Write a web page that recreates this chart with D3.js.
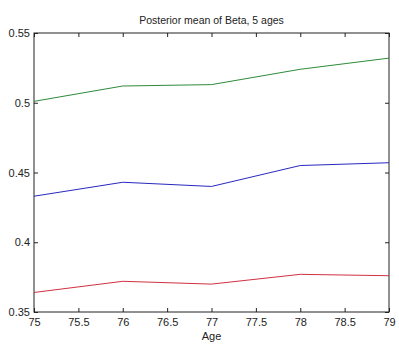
<!DOCTYPE html>
<html><head><meta charset="utf-8">
<script src="https://cdn.jsdelivr.net/npm/d3@7"></script>
<style>body{margin:0;background:#fff}svg{display:block}text{font-family:"Liberation Sans",Arial,sans-serif;}</style>
</head><body>
<script>
const ages = [75, 76, 77, 78, 79];
const green = [0.501, 0.512, 0.513, 0.524, 0.532];
const blue = [0.433, 0.443, 0.440, 0.455, 0.457];
const red = [0.364, 0.372, 0.370, 0.377, 0.376];
const xTicks = [75, 75.5, 76, 76.5, 77, 77.5, 78, 78.5, 79];
const yTicks = [0.35, 0.4, 0.45, 0.5, 0.55];
const seriesList = [
  {values: green, color: "#2e8b3a"},
  {values: blue, color: "#2828c0"},
  {values: red, color: "#d03040"}
];

const W = 399, H = 349;
const L = 34, R = 389, T = 33, B = 312;
const svg = d3.select("body").append("svg").attr("width", W).attr("height", H);
const x = d3.scaleLinear().domain([75, 79]).range([L, R]);
const y = d3.scaleLinear().domain([0.35, 0.55]).range([B, T]);

svg.append("rect").attr("x", L).attr("y", T).attr("width", R - L).attr("height", B - T)
  .attr("fill", "#fff").attr("stroke", "#222").attr("stroke-width", 1);

const tk = 4;
const gx = svg.append("g").attr("transform", `translate(0,${B})`)
  .call(d3.axisBottom(x).tickValues(xTicks).tickSize(-tk).tickPadding(6).tickFormat(d => d));
const gxt = svg.append("g").attr("transform", `translate(0,${T})`)
  .call(d3.axisTop(x).tickValues(xTicks).tickSize(-tk).tickFormat(""));
const gy = svg.append("g").attr("transform", `translate(${L},0)`)
  .call(d3.axisLeft(y).tickValues(yTicks).tickSize(-tk).tickPadding(4).tickFormat(d => String(d)));
const gyr = svg.append("g").attr("transform", `translate(${R},0)`)
  .call(d3.axisRight(y).tickValues(yTicks).tickSize(-tk).tickFormat(""));
[gx, gxt, gy, gyr].forEach(g => {
  g.select(".domain").remove();
  g.selectAll("line").attr("stroke", "#222");
  g.selectAll("text").attr("font-size", 11).attr("fill", "#222")
    .attr("font-family", "'Liberation Sans',Arial,sans-serif");
});
gy.selectAll("text").attr("dy", "0.32em");

const line = d3.line().x((d, i) => x(ages[i])).y(d => y(d));
seriesList.forEach(s => {
  svg.append("path").datum(s.values).attr("d", line)
    .attr("fill", "none").attr("stroke", s.color).attr("stroke-width", 1);
});

svg.append("text").attr("x", (L + R) / 2).attr("y", 24).attr("text-anchor", "middle")
  .attr("font-size", 10.5).attr("fill", "#222").text("Posterior mean of Beta, 5 ages");
svg.append("text").attr("x", (L + R) / 2).attr("y", 340).attr("text-anchor", "middle")
  .attr("font-size", 11).attr("fill", "#222").text("Age");
</script>
</body></html>
